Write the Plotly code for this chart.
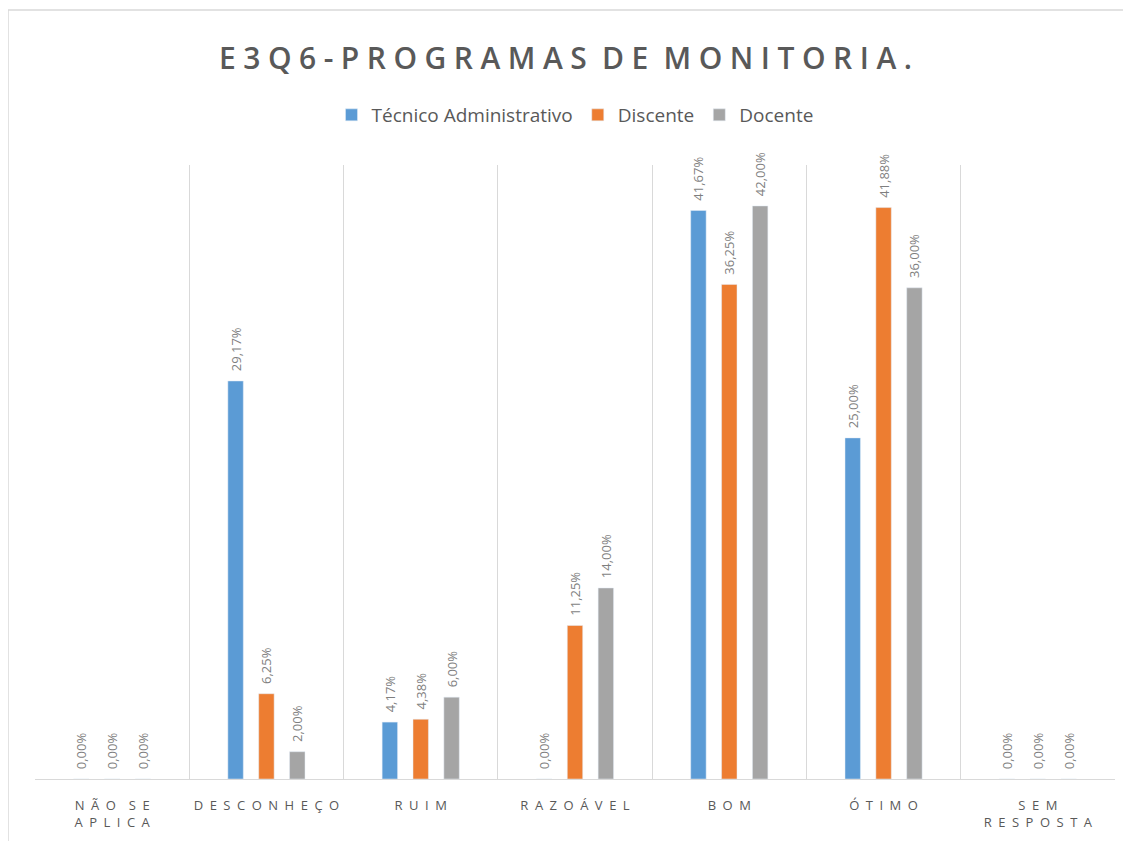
import plotly.graph_objects as go

categories = ["NÃO SE APLICA", "DESCONHEÇO", "RUIM", "RAZOÁVEL", "BOM", "ÓTIMO", "SEM RESPOSTA"]
tick_labels = ["NÃO SE<br>APLICA", "DESCONHEÇO", "RUIM", "RAZOÁVEL", "BOM", "ÓTIMO", "SEM<br>RESPOSTA"]
series_names = ["Técnico Administrativo", "Discente", "Docente"]
tecnico = [0.00, 29.17, 4.17, 0.00, 41.67, 25.00, 0.00]
discente = [0.00, 6.25, 4.38, 11.25, 36.25, 41.88, 0.00]
docente = [0.00, 2.00, 6.00, 14.00, 42.00, 36.00, 0.00]
title_text = "E3Q6-PROGRAMAS DE MONITORIA."

colors = ["#5B9BD5", "#ED7D31", "#A5A5A5"]
TXT = "#595959"
LBL = "#7F7F7F"

W, H = 1115, 833
L, R, T, B = 27, 8, 157, 62
PW, PH = W - L - R, H - T - B


def spaced(s, sep, wordsep):
    lines = []
    for part in s.split("<br>"):
        words = [sep.join(list(w)) for w in part.split(" ")]
        lines.append(wordsep.join(words))
    return "<br>".join(lines)


fig = go.Figure()
for name, vals, col in zip(series_names, [tecnico, discente, docente], colors):
    fig.add_trace(go.Bar(
        x=categories, y=vals, name=name, marker_color=col,
        texttemplate="\u00a0\u00a0%{y:.2f}%", textposition="outside", textangle=-90,
        constraintext="none",
        textfont=dict(family="Open Sans", size=13, color=LBL),
        cliponaxis=False,
    ))

fig.update_layout(
    width=W, height=H,
    paper_bgcolor="white", plot_bgcolor="white",
    separators=",.",
    barmode="group", bargap=0.40, bargroupgap=0.5,
    margin=dict(l=L, r=R, t=T, b=B, autoexpand=False),
    title=dict(text=spaced(title_text, "\u2005", " \u2005"), x=0.5, xanchor="center",
               y=1 - 50 / H, yanchor="middle",
               font=dict(family="Open Sans", size=30, color=TXT, weight=600)),
    legend=dict(orientation="h", x=0.5, xanchor="center", y=(PH - (107 - T)) / PH, yanchor="middle",
                font=dict(family="Open Sans", size=19, color=TXT), itemwidth=30,
                traceorder="normal"),
    showlegend=True,
    xaxis=dict(type="category", tickvals=categories,
               ticktext=[spaced(t, "\u2002", "\u2002\u2002") for t in tick_labels],
               tickangle=0, automargin=False,
               tickson="boundaries", showgrid=True, gridcolor="#D9D9D9", gridwidth=1,
               showline=True, linecolor="#D9D9D9", linewidth=1,
               ticks="", ticklabelstandoff=14,
               tickfont=dict(family="Open Sans", size=13, color=TXT)),
    yaxis=dict(range=[0, 45], showgrid=False, showticklabels=False, zeroline=False, showline=False,
               automargin=False),
    shapes=[dict(type="rect", xref="paper", yref="paper",
                 x0=-L / PW, x1=1.5, y0=-0.5, y1=(PH + T - 2) / PH,
                 line=dict(color="#D9D9D9", width=1.5))],
)

fig.write_html("out.html")
